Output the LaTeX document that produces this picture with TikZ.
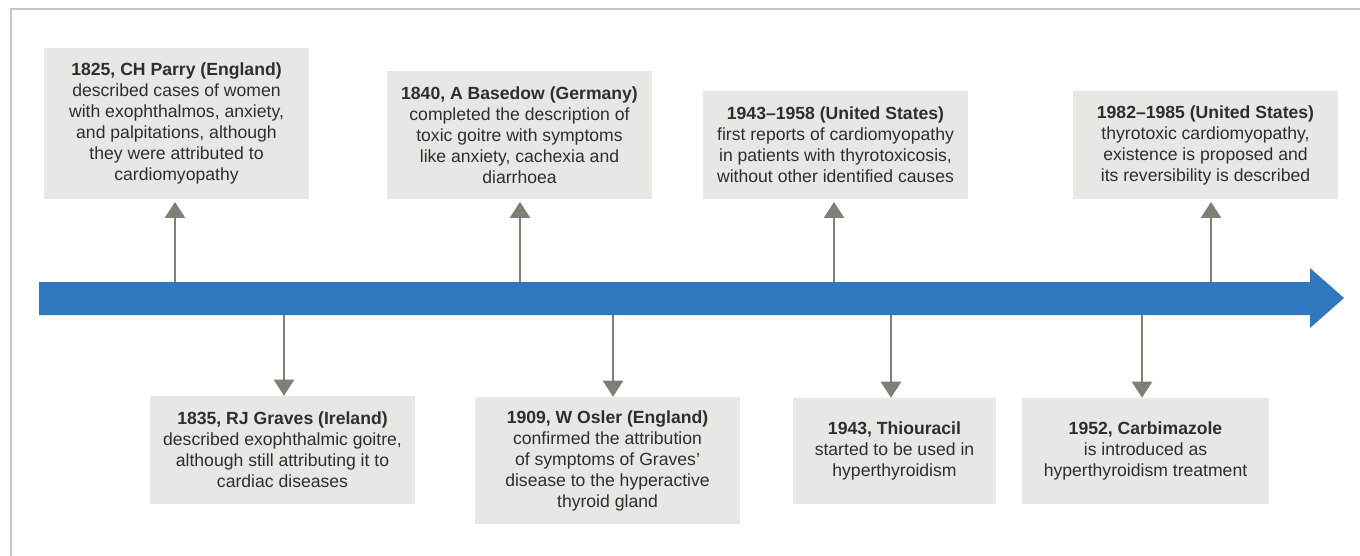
\documentclass[tikz,border=0pt]{standalone}
\usepackage{fontspec}
\setmainfont{Liberation Sans}
\usetikzlibrary{arrows.meta,calc}

\definecolor{bandblue}{HTML}{2F78BF}
\definecolor{boxgray}{HTML}{E7E7E3}
\definecolor{stemgray}{HTML}{7E7F75}
\definecolor{framegray}{HTML}{C8C8C0}
\definecolor{textgray}{HTML}{2E2E2E}

\begin{document}
\begin{tikzpicture}[x=0.75pt,y=-0.75pt,
    event/.style={fill=boxgray,inner sep=0pt,align=center,text=textgray,
      font=\fontsize{13.2}{15.75}\selectfont},
    stem/.style={draw=stemgray,line width=1.9pt,
      -{Triangle[width=15pt,length=12pt]}}]
      \useasboundingbox (0,0) rectangle (1360,556);
      \draw[framegray,line width=1.5pt] (11,556) -- (11,9) -- (1360,9);
      % the time line
      \fill[bandblue] (39,282) -- (1310,282) -- (1310,268) -- (1344,298)
        -- (1310,328) -- (1310,315) -- (39,315) -- cycle;
      \coordinate (t1) at (175,282);
      \coordinate (t3) at (520,282);
      \coordinate (t5) at (834,282);
      \coordinate (t7) at (1211,282);
      \coordinate (d2) at (284,315);
      \coordinate (d4) at (613,315);
      \coordinate (d6) at (891,315);
      \coordinate (d8) at (1142,315);
      % events above
      \node[event,minimum width=198.75pt,minimum height=113.25pt] (e1) at (176.5,123.5)
        {\textbf{1825, CH Parry (England)}\\described cases of women\\with exophthalmos, anxiety,\\and palpitations, although\\they were attributed to\\cardiomyopathy};
      \node[event,minimum width=198.75pt,minimum height=96pt] (e3) at (519.5,135)
        {\textbf{1840, A Basedow (Germany)}\\completed the description of\\toxic goitre with symptoms\\like anxiety, cachexia and\\diarrhoea};
      \node[event,minimum width=198.75pt,minimum height=81pt] (e5) at (835.5,145)
        {\textbf{1943–1958 (United States)}\\first reports of cardiomyopathy\\in patients with thyrotoxicosis,\\without other identified causes};
      \node[event,minimum width=198.75pt,minimum height=81pt] (e7) at (1205.5,145)
        {\textbf{1982–1985 (United States)}\\thyrotoxic cardiomyopathy,\\existence is proposed and\\its reversibility is described};
      % events below
      \node[event,minimum width=198.75pt,minimum height=81pt] (e2) at (282.5,450)
        {\textbf{1835, RJ Graves (Ireland)}\\described exophthalmic goitre,\\although still attributing it to\\cardiac diseases};
      \node[event,minimum width=198.75pt,minimum height=95.25pt] (e4) at (607.5,460.5)
        {\textbf{1909, W Osler (England)}\\confirmed the attribution\\of symptoms of Graves’\\disease to the hyperactive\\thyroid gland};
      \node[event,minimum width=152.25pt,minimum height=79.5pt] (e6) at (894.5,451)
        {\textbf{1943, Thiouracil}\\started to be used in\\hyperthyroidism};
      \node[event,minimum width=185.25pt,minimum height=79.5pt] (e8) at (1145.5,451)
        {\textbf{1952, Carbimazole}\\is introduced as\\hyperthyroidism treatment};
      \draw[stem,shorten >=2pt] (t1) -- (t1 |- e1.south);
      \draw[stem,shorten >=2pt] (t3) -- (t3 |- e3.south);
      \draw[stem,shorten >=2pt] (t5) -- (t5 |- e5.south);
      \draw[stem,shorten >=2pt] (t7) -- (t7 |- e7.south);
      \draw[stem] (d2) -- (d2 |- e2.north);
      \draw[stem] (d4) -- (d4 |- e4.north);
      \draw[stem] (d6) -- (d6 |- e6.north);
      \draw[stem] (d8) -- (d8 |- e8.north);
    \end{tikzpicture}
\end{document}
